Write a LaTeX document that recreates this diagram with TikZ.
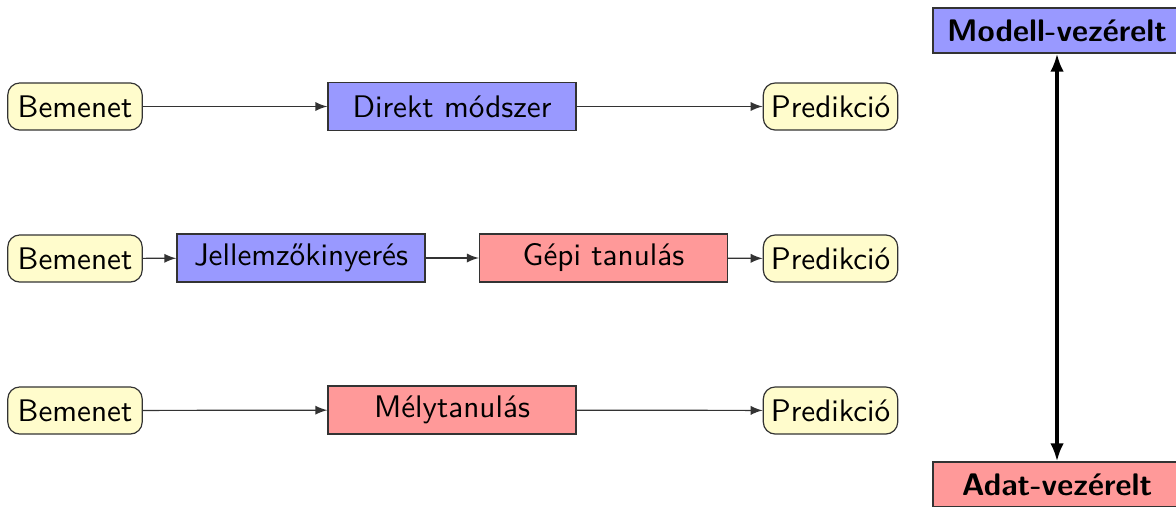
\documentclass[tikz,border=0pt]{standalone}
\usetikzlibrary{arrows.meta}
\begin{document}
\begin{tikzpicture}[x=0.3333pt,y=-0.3333pt,font=\sffamily\fontsize{10.4}{12.5}\selectfont,
  io/.style={draw=black!80,fill=yellow!20,rounded corners=4pt,minimum height=15.7pt,minimum width=44.8pt,inner sep=2.5pt},
  blk/.style={draw=black!80,minimum width=82.7pt,minimum height=16pt},
  bluebox/.style={blk,fill=blue!40},
  redbox/.style={blk,fill=red!40},
  conn/.style={-latex,black!80},
  side/.style={draw=black!80,minimum width=82.7pt,minimum height=15pt,font=\sffamily\bfseries\fontsize{10.4}{12.5}\selectfont}]
\useasboundingbox (0,0) rectangle (1176,506);
% row 1
\node[io] (b1) at (75,106.5) {Bemenet};
\node[bluebox] (d) at (452,106.5) {Direkt módszer};
\node[io] (p1) at (830.5,106.5) {Predikció};
\draw[conn] (b1) -- (d);
\draw[conn] (d) -- (p1);
% row 2
\node[io] (b2) at (75,258.5) {Bemenet};
\node[bluebox] (j) at (301,258) {Jellemzőkinyerés};
\node[redbox] (g) at (603.5,258) {Gépi tanulás};
\node[io] (p2) at (830.5,258.5) {Predikció};
\draw[conn] (b2) -- (j);
\draw[conn] (j) -- (g);
\draw[conn] (g) -- (p2);
% row 3
\node[io] (b3) at (75,410.5) {Bemenet};
\node[redbox] (m) at (452,410) {Mélytanulás};
\node[io] (p3) at (830.5,410.5) {Predikció};
\draw[conn] (b3) -- (m);
\draw[conn] (m) -- (p3);
% right side
\node[side,fill=blue!40] (mv) at (1057,30.5) {Modell-vezérelt};
\node[side,fill=red!40] (av) at (1057,484.5) {Adat-vezérelt};
\draw[{Latex[length=6pt,width=4.5pt]}-{Latex[length=6pt,width=4.5pt]},line width=1.1pt] (mv) -- (av);
\end{tikzpicture}
\end{document}
